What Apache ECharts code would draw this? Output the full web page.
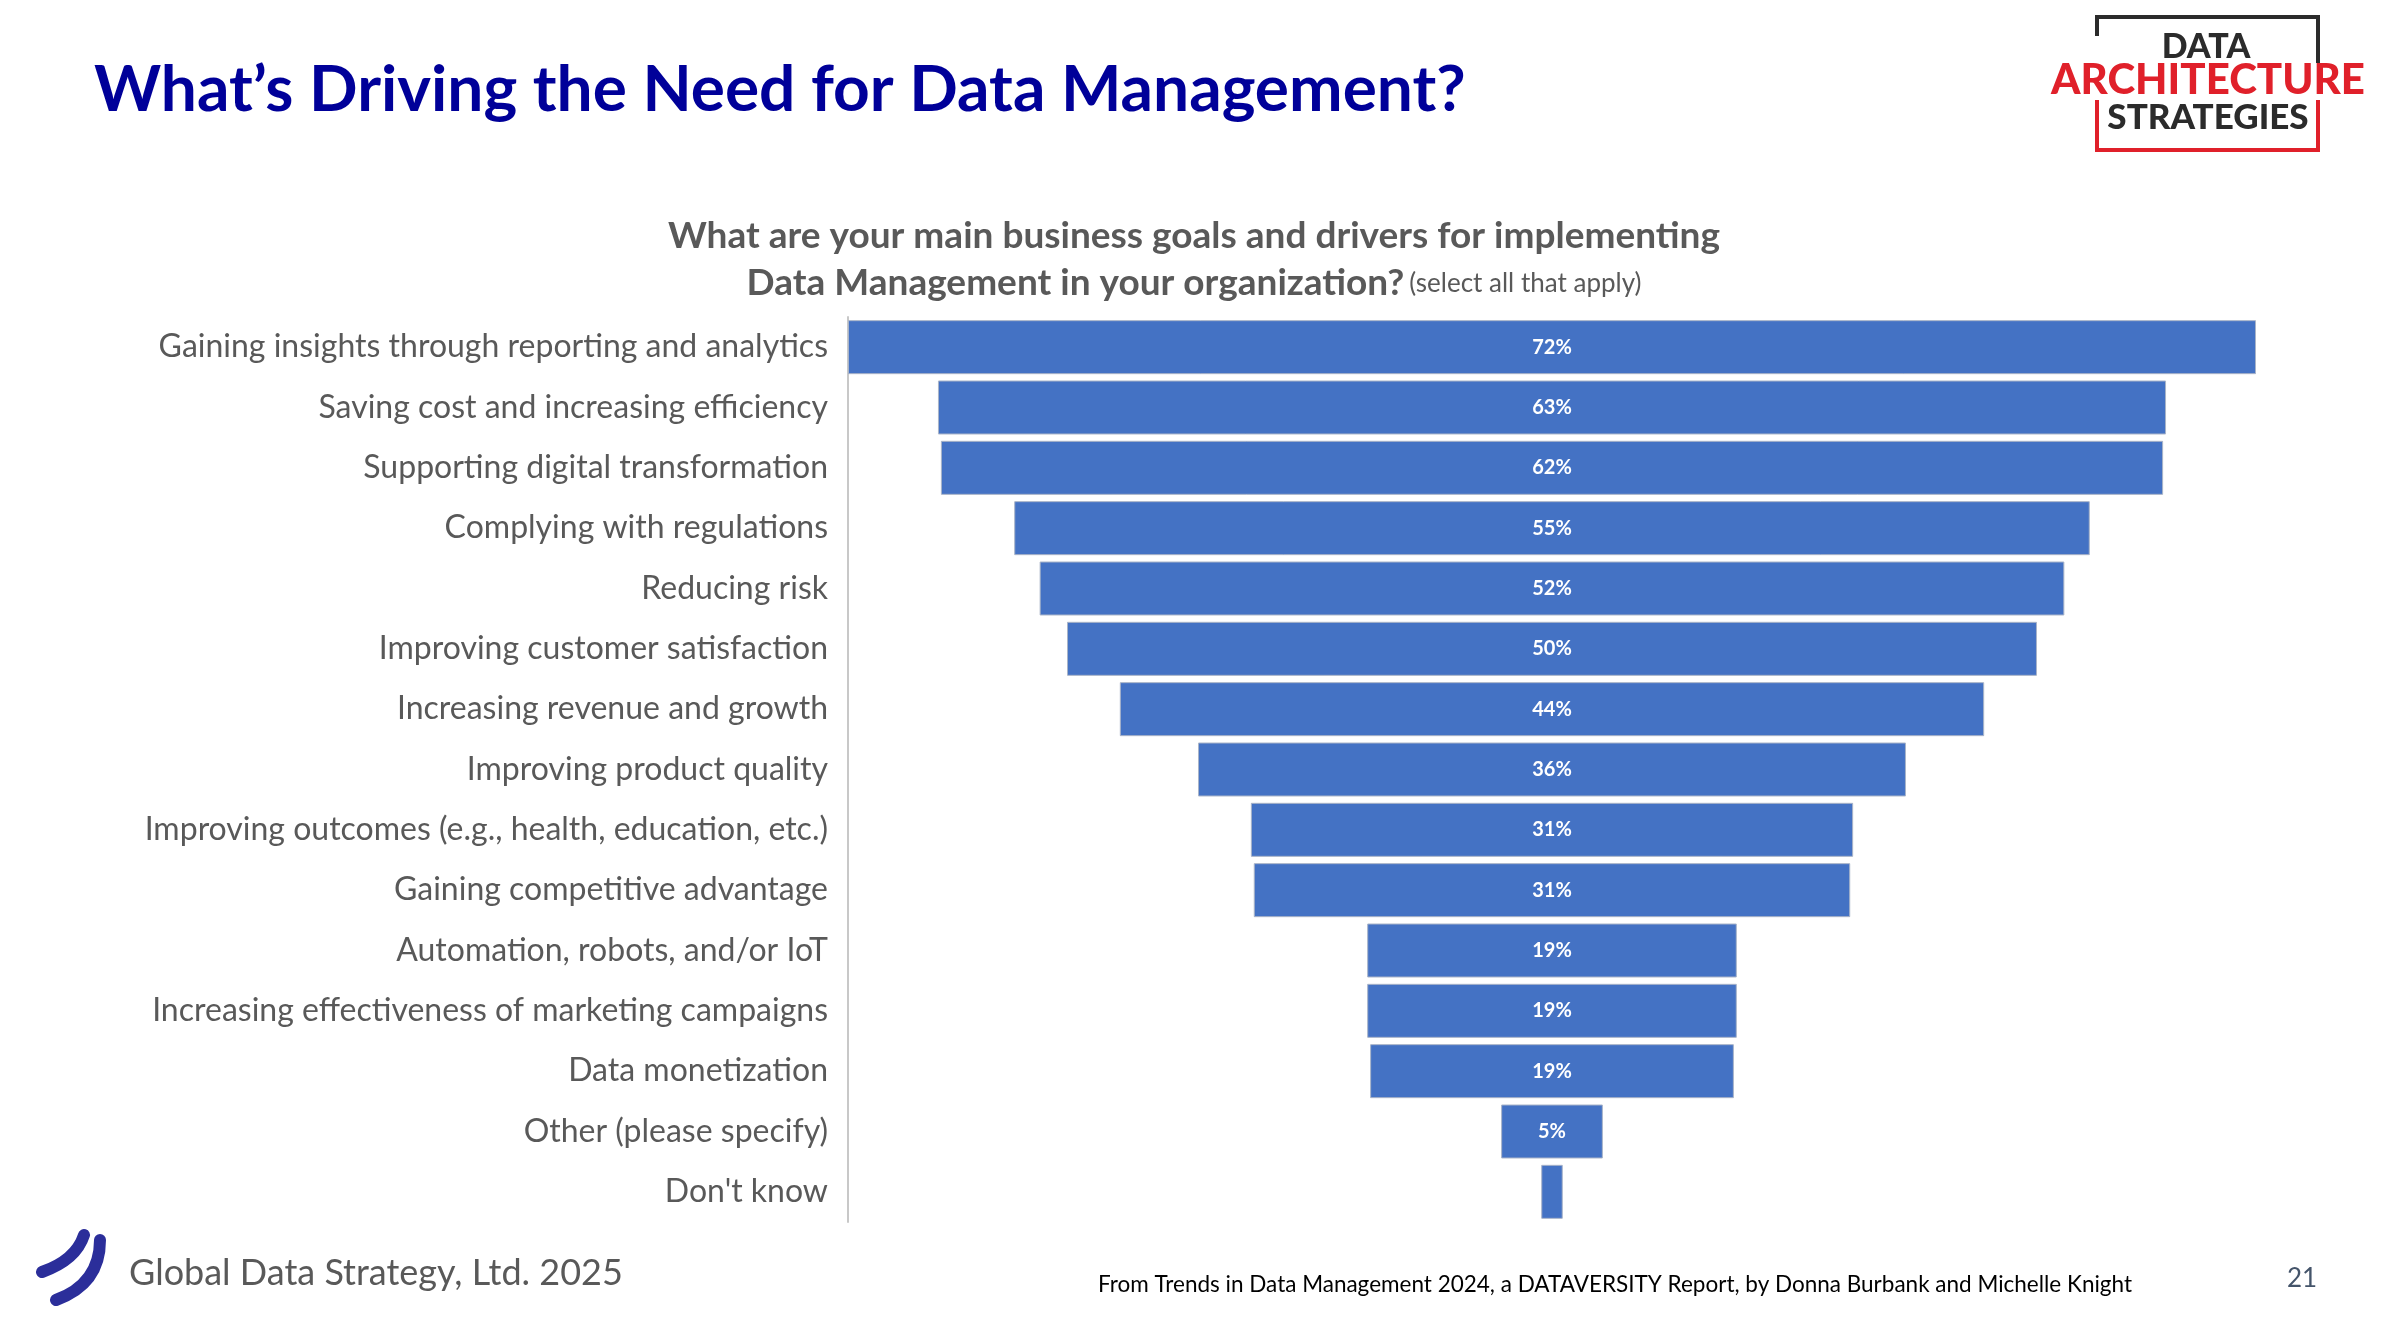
<!DOCTYPE html>
<html>
<head>
<meta charset="utf-8">
<script src="https://cdn.jsdelivr.net/npm/echarts@6/dist/echarts.min.js"></script>
<style>
html,body{margin:0;padding:0;background:#fff;}
#chart{width:2382px;height:1335px;}
</style>
</head>
<body>
<div id="chart"></div>
<script>
// ---- data ----
const categories = [
  'Gaining insights through reporting and analytics',
  'Saving cost and increasing efficiency',
  'Supporting digital transformation',
  'Complying with regulations',
  'Reducing risk',
  'Improving customer satisfaction',
  'Increasing revenue and growth',
  'Improving product quality',
  'Improving outcomes (e.g., health, education, etc.)',
  'Gaining competitive advantage',
  'Automation, robots, and/or IoT',
  'Increasing effectiveness of marketing campaigns',
  'Data monetization',
  'Other (please specify)',
  "Don't know"
];
const values = [72, 62.8, 62.5, 55, 52.4, 49.6, 44.2, 36.2, 30.8, 30.5, 18.9, 18.9, 18.6, 5.2, 1.1];
const barLabels = ['72%','63%','62%','55%','52%','50%','44%','36%','31%','31%','19%','19%','19%','5%',''];

const titleLine1 = 'What are your main business goals and drivers for implementing';
const titleLine2 = 'Data Management in your organization?';
const titleNote = '(select all that apply)';

const chart = echarts.init(document.getElementById('chart'), null, {renderer:'canvas'});
const half = Math.max(...values) / 2;

const option = {
  backgroundColor: '#ffffff',
  animation: false,
  title: {
    text: '{b|' + titleLine1 + '}\n{b|' + titleLine2 + '} {n|' + titleNote + '}',
    left: 1189, top: 208, textAlign: 'center',
    textStyle: {
      rich: {
        b: {fontFamily: 'Lato', fontWeight: 'bold', fontSize: 37, color: '#595959', lineHeight: 47},
        n: {fontFamily: 'Lato', fontWeight: 'normal', fontSize: 26, color: '#595959', lineHeight: 47}
      }
    }
  },
  grid: {left: 848, top: 317, width: 1408, height: 905, containLabel: false},
  xAxis: {type: 'value', min: -half, max: half, show: false},
  yAxis: {
    type: 'category', inverse: true, data: categories,
    axisTick: {show: false},
    axisLine: {onZero: false, lineStyle: {color: '#c8c8c8', width: 2}},
    axisLabel: {fontFamily: 'Lato', fontSize: 32, color: '#595959', margin: 20}
  },
  series: [
    {
      type: 'bar', stack: 'f', stackStrategy: 'all', silent: true,
      data: values.map(v => -v / 2),
      itemStyle: {color: 'transparent'},
      barCategoryGap: '10.5%'
    },
    {
      type: 'bar', stack: 'f', stackStrategy: 'all',
      data: values,
      barCategoryGap: '10.5%',
      itemStyle: {color: '#4472C4', borderColor: '#a9b4c8', borderWidth: 1},
      label: {
        show: true, position: 'inside', color: '#ffffff',
        fontFamily: 'Lato', fontWeight: 'bold', fontSize: 20,
        formatter: p => barLabels[p.dataIndex]
      }
    }
  ],
  graphic: [
    {type: 'text', x: 94, y: 90, style: {text: 'What\u2019s Driving the Need for Data Management?', font: 'bold 64px Lato', fill: '#000099', verticalAlign: 'middle'}},
    // logo box
    {type: 'polyline', shape: {points: [[2097,36],[2097,17],[2318,17],[2318,63]]}, style: {stroke: '#2b2b2b', lineWidth: 4, fill: null}},
    {type: 'polyline', shape: {points: [[2097,100],[2097,150],[2318,150],[2318,100]]}, style: {stroke: '#e0202a', lineWidth: 4, fill: null}},
    {type: 'text', x: 2206, y: 47, style: {text: 'DATA', font: '900 34px Lato', fill: '#2b2b2b', align: 'center', verticalAlign: 'middle'}},
    {type: 'text', x: 2208, y: 80, style: {text: 'ARCHITECTURE', font: '900 42px Lato', fill: '#e0202a', align: 'center', verticalAlign: 'middle'}},
    {type: 'text', x: 2208, y: 118, style: {text: 'STRATEGIES', font: '900 35px Lato', fill: '#2b2b2b', align: 'center', verticalAlign: 'middle'}},
    // footer swoosh
    {type: 'bezierCurve', shape: {x1: 42, y1: 1272, cpx1: 76, cpy1: 1260, x2: 84, y2: 1235}, style: {stroke: '#2B2E9A', lineWidth: 12, fill: null, lineCap: 'round'}},
    {type: 'bezierCurve', shape: {x1: 56, y1: 1300, cpx1: 100, cpy1: 1284, x2: 100, y2: 1240}, style: {stroke: '#2B2E9A', lineWidth: 12, fill: null, lineCap: 'round'}},
    {type: 'text', x: 129, y: 1273, style: {text: 'Global Data Strategy, Ltd. 2025', font: '36px Lato', fill: '#595959', verticalAlign: 'middle'}},
    {type: 'text', x: 1615, y: 1285, style: {text: 'From Trends in Data Management 2024, a DATAVERSITY Report, by Donna Burbank and Michelle Knight', font: '22.5px Lato', fill: '#000000', align: 'center', verticalAlign: 'middle'}},
    {type: 'text', x: 2302, y: 1279, style: {text: '21', font: '26px Lato', fill: '#44546A', align: 'center', verticalAlign: 'middle'}}
  ]
};
chart.setOption(option);
</script>
</body>
</html>
